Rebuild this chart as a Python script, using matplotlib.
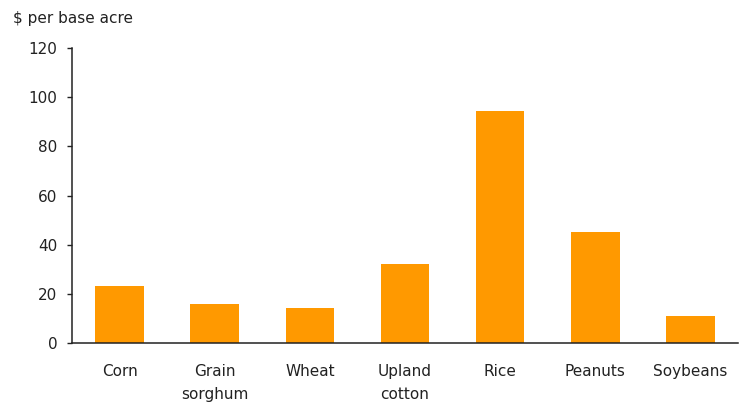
import matplotlib
matplotlib.use("Agg")
import matplotlib.pyplot as plt

# payments per base acre, by crop
crops = ["Corn", "Grain\nsorghum", "Wheat", "Upland\ncotton", "Rice", "Peanuts", "Soybeans"]
payments = [23.3, 15.7, 14.4, 32.1, 94.4, 45.0, 10.9]
y_ticks = [0, 20, 40, 60, 80, 100, 120]

plt.rcParams["font.family"] = ["DejaVu Sans"]

fig = plt.figure(figsize=(7.41, 4.04), dpi=100)
ax = fig.add_axes([72 / 741, 61 / 404, 666 / 741, 295 / 404])

x = list(range(len(crops)))
ax.bar(x, payments, width=0.51, color="#FF9900", zorder=2)

ax.set_xlim(-0.5, len(crops) - 0.5)
ax.set_ylim(0, 120)
ax.set_yticks(y_ticks)
ax.set_xticks(x)
ax.set_xticklabels(crops, linespacing=1.65, va="top")

for s in ["top", "right"]:
    ax.spines[s].set_visible(False)
for s in ["left", "bottom"]:
    ax.spines[s].set_color("#222222")
    ax.spines[s].set_linewidth(1.1)

ax.tick_params(axis="y", length=3.5, width=1, pad=7, labelsize=11, colors="#222222")
ax.tick_params(axis="x", length=0, pad=15, labelsize=11, colors="#222222")

fig.text(13 / 741, 1 - 18 / 404, "$ per base acre", fontsize=11, color="#222222",
         ha="left", va="center")

fig.savefig("out.png", dpi=100, facecolor="white")
